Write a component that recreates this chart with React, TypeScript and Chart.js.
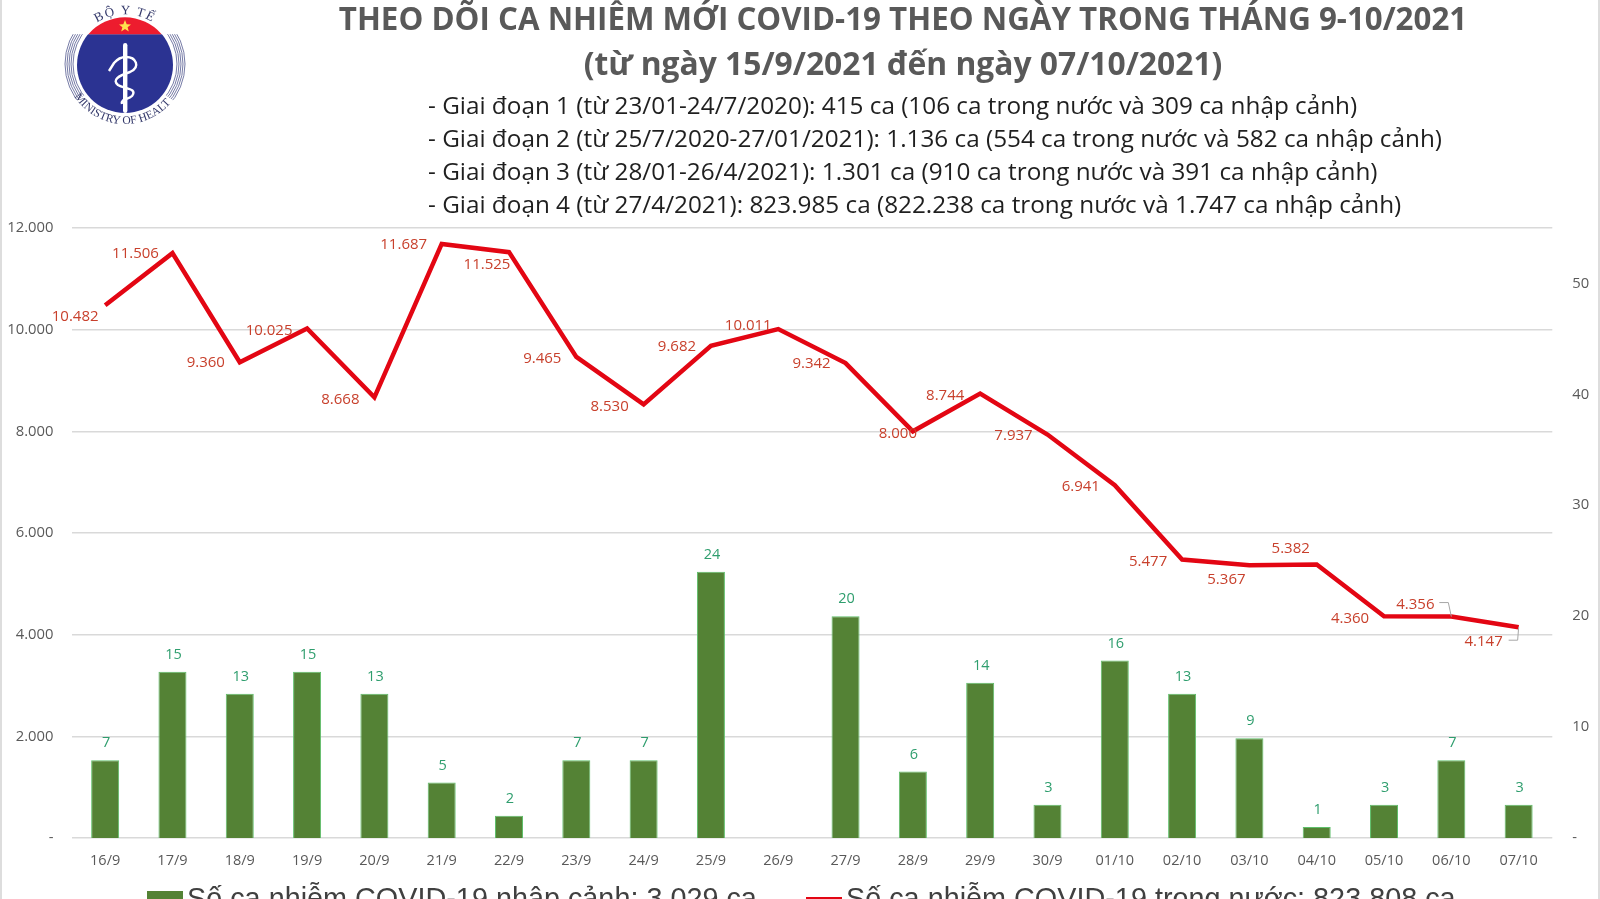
import React, { useEffect, useRef } from "react";
import { Chart, registerables } from "chart.js";

Chart.register(...registerables);

const categories = ["16/9","17/9","18/9","19/9","20/9","21/9","22/9","23/9","24/9","25/9","26/9","27/9","28/9","29/9","30/9","01/10","02/10","03/10","04/10","05/10","06/10","07/10"];
const domesticCases = [10482,11506,9360,10025,8668,11687,11525,9465,8530,9682,10011,9342,8000,8744,7937,6941,5477,5367,5382,4360,4356,4147];
const importedCases = [7,15,13,15,13,5,2,7,7,24,null,20,6,14,3,16,13,9,1,3,7,3];
const lineLabelOffsets: [number, number][] = [[-30,12],[-37,1],[-34,1],[-38,2],[-34,2],[-38,1],[-22,13],[-34,2],[-34,2],[-34,1],[-30,-3],[-34,1],[-15,2],[-35,2],[-34,1],[-34,2],[-34,2],[-23,15],[-26,-16],[-34,2],[-36,-12],[-35,15]];
const titleLines = ["THEO DÕI CA NHIỄM MỚI COVID-19 THEO NGÀY TRONG THÁNG 9-10/2021", "(từ ngày 15/9/2021 đến ngày 07/10/2021)"];
const stageLines = [
  "- Giai đoạn 1 (từ 23/01-24/7/2020): 415 ca (106 ca trong nước và 309 ca nhập cảnh)",
  "- Giai đoạn 2 (từ 25/7/2020-27/01/2021): 1.136 ca (554 ca trong nước và 582 ca nhập cảnh)",
  "- Giai đoạn 3 (từ 28/01-26/4/2021): 1.301 ca (910 ca trong nước và 391 ca nhập cảnh)",
  "- Giai đoạn 4 (từ 27/4/2021): 823.985 ca (822.238 ca trong nước và 1.747 ca nhập cảnh)",
];
const importedLegend = "Số ca nhiễm COVID-19 nhập cảnh: 3.029 ca";
const domesticLegend = "Số ca nhiễm COVID-19 trong nước: 823.808 ca";

const FONT = "'Open Sans', sans-serif";
const LEGEND_FONT = "'Liberation Sans', sans-serif";
const dotted = (v: number) => String(v).replace(/\B(?=(\d{3})+$)/g, ".");

const labelPlugin = {
  id: "valueLabels",
  afterDatasetsDraw(chart: any) {
    const { ctx } = chart;
    const bars = chart.getDatasetMeta(0).data;
    const line = chart.getDatasetMeta(1).data;
    ctx.save();
    ctx.textAlign = "center";
    ctx.textBaseline = "middle";
    ctx.font = `14.5px ${FONT}`;
    ctx.fillStyle = "#2F9E6E";
    importedCases.forEach((v, i) => {
      if (v == null) return;
      ctx.fillText(String(v), bars[i].x + 1, bars[i].y - 17);
    });
    ctx.font = `15px ${FONT}`;
    ctx.fillStyle = "#C8402C";
    domesticCases.forEach((v, i) => {
      const [dx, dy] = lineLabelOffsets[i];
      ctx.fillText(dotted(v), line[i].x + dx, line[i].y + dy);
    });
    // leader lines of the last labels
    ctx.strokeStyle = "#A6A6A6";
    ctx.lineWidth = 1;
    [[20, -12, -14, -3, -14], [21, -10, 13, -1, 13]].forEach(([i, a, b, c, d]) => {
      const p = line[i];
      ctx.beginPath();
      ctx.moveTo(p.x + a, p.y + b);
      ctx.lineTo(p.x + c, p.y + d);
      ctx.lineTo(p.x, p.y);
      ctx.stroke();
    });
    ctx.restore();
  },
};

function Logo() {
  const arcs = [52, 54, 56, 58, 60];
  return (
    <svg width="140" height="130" viewBox="55 0 140 130" style={{ position: "absolute", left: 55, top: 0 }}>
      <defs>
        <path id="topArc" d="M 84 35 A 51 51 0 0 1 166 35" />
        <path id="botArc" d="M 77 100 A 60 60 0 0 0 173 100" />
        <clipPath id="sideClip">
          <path d="M 55 0 L 90 17 L 125 64 L 160 17 L 195 0 L 195 115 L 168 97 L 125 64 L 82 97 L 55 115 Z" />
        </clipPath>
      </defs>
      <g clipPath="url(#sideClip)" fill="none" stroke="#666C9C" strokeWidth="0.9">
        {arcs.map((r) => <circle key={r} cx="125" cy="64" r={r} />)}
      </g>
      <circle cx="125" cy="65" r="48" fill="#2B3392" />
      <rect x="70" y="0" width="110" height="34.2" fill="#fff" />
      <path d="M 88.4 34.2 A 48 48 0 0 1 161.6 34.2 Z" fill="#ED1C2E" />
      <polygon points="125,20 126.7,24.3 131,24.4 127.6,27.2 128.8,31.4 125,29 121.2,31.4 122.4,27.2 119,24.4 123.3,24.3" fill="#FFE14D" />
      <rect x="123" y="43" width="4.4" height="70" rx="2.2" fill="#fff" />
      <path d="M 109 71 L 114 63 Q 119 57 126 57 C 136 57 141 67 130 72 C 118 76 112 80 118 85 C 124 89 138 88 132 96 C 128 100 121 98 122 104" fill="none" stroke="#fff" strokeWidth="2.4" />
      <text fontFamily="'Liberation Serif', serif" fontSize="13" fill="#33386A" letterSpacing="1.5">
        <textPath href="#topArc" startOffset="50%" textAnchor="middle">BỘ Y TẾ</textPath>
      </text>
      <text fontFamily="'Liberation Serif', serif" fontSize="11.5" fill="#33386A">
        <textPath href="#botArc" startOffset="50%" textAnchor="middle">MINISTRY OF HEALTH</textPath>
      </text>
    </svg>
  );
}

export default function App() {
  const ref = useRef<HTMLCanvasElement>(null);
  useEffect(() => {
    document.body.style.margin = "0";
    document.body.style.overflow = "hidden";
    document.body.style.background = "#fff";
    const chart = new Chart(ref.current!, {
      type: "bar",
      plugins: [labelPlugin],
      data: {
        labels: categories,
        datasets: [
          {
            type: "bar",
            label: importedLegend,
            data: importedCases,
            yAxisID: "y1",
            backgroundColor: "#548235",
            borderColor: "#5FBF6B",
            borderWidth: 1,
            barPercentage: 0.416,
            categoryPercentage: 1,
            order: 2,
          },
          {
            type: "line",
            label: domesticLegend,
            data: domesticCases,
            yAxisID: "y",
            borderColor: "#E30613",
            backgroundColor: "#E30613",
            borderWidth: 4.5,
            pointRadius: 0,
            tension: 0,
            order: 1,
          },
        ],
      } as any,
      options: {
        animation: false,
        responsive: false,
        layout: { padding: { top: 228, left: 0, right: 0, bottom: 31 } },
        plugins: {
          tooltip: { enabled: false },
          title: { display: false },
          legend: { display: false },
        },
        scales: {
          x: {
            grid: { display: false },
            border: { display: false },
            ticks: { color: "#595959", font: { family: FONT, size: 14.5 }, padding: 6, maxRotation: 0, autoSkip: false },
            afterFit: (s: any) => { s.height = 30; },
          },
          y: {
            position: "left",
            min: 0,
            max: 12000,
            grid: { color: "#D9D9D9", lineWidth: 1.5, drawTicks: false },
            border: { display: false },
            ticks: {
              stepSize: 2000,
              padding: 18,
              color: "#595959",
              font: { family: FONT, size: 14.8 },
              callback: (v: any) => (v === 0 ? "-" : dotted(v)),
            },
            afterFit: (s: any) => { s.width = 71.5; },
          },
          y1: {
            position: "right",
            min: 0,
            max: 55,
            grid: { display: false },
            border: { display: false },
            ticks: {
              stepSize: 10,
              includeBounds: false,
              padding: 12,
              color: "#595959",
              font: { family: FONT, size: 14.8 },
              callback: (v: any) => (v === 0 ? "-" : String(v)),
            },
            afterFit: (s: any) => { s.width = 47.7; },
          },
        },
      } as any,
    });
    return () => chart.destroy();
  }, []);

  return (
    <div style={{ position: "relative", width: 1600, height: 899, overflow: "hidden", background: "#fff" }}>
      <canvas ref={ref} width={1600} height={899} style={{ position: "absolute", left: 0, top: 0 }} />
      <div style={{ position: "absolute", left: 0, top: 0, width: 2, height: 899, background: "#DDD" }} />
      <div style={{ position: "absolute", right: 0, top: 0, width: 2, height: 899, background: "#DDD" }} />
      <Logo />
      {titleLines.map((t, i) => (
        <div key={t} style={{ position: "absolute", left: 203, width: 1400, textAlign: "center", top: i === 0 ? -5 : 40, fontFamily: FONT, fontWeight: 700, fontSize: i === 0 ? 31.3 : 31.8, lineHeight: "46px", color: "#595959", whiteSpace: "nowrap" }}>{t}</div>
      ))}
      {stageLines.map((t, i) => (
        <div key={t} style={{ position: "absolute", left: 428, top: 87 + i * 33, fontFamily: FONT, fontSize: 24.3, lineHeight: "36px", color: "#1F1F1F", whiteSpace: "nowrap" }}>{t}</div>
      ))}
      <div style={{ position: "absolute", left: 147, top: 891, width: 36, height: 30, background: "#548235" }} />
      <div style={{ position: "absolute", left: 187, top: 878, fontFamily: LEGEND_FONT, fontSize: 28.8, lineHeight: "40px", color: "#404040", whiteSpace: "nowrap" }}>{importedLegend}</div>
      <div style={{ position: "absolute", left: 806, top: 897, width: 36, height: 3, background: "#E30613" }} />
      <div style={{ position: "absolute", left: 846, top: 878, fontFamily: LEGEND_FONT, fontSize: 28.8, lineHeight: "40px", color: "#404040", whiteSpace: "nowrap" }}>{domesticLegend}</div>
    </div>
  );
}
